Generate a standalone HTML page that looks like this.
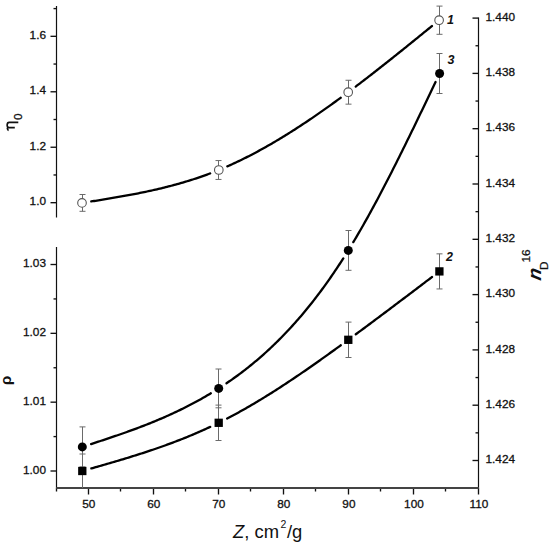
<!DOCTYPE html>
<html><head><meta charset="utf-8"><style>
html,body{margin:0;padding:0;background:#fff;}
body{width:550px;height:547px;overflow:hidden;}
svg{display:block;}
</style></head><body>
<svg width="550" height="547" viewBox="0 0 550 547">
<rect width="550" height="547" fill="#fff"/>
<g stroke="#111" stroke-width="1.35" fill="none">
<line x1="56.5" y1="6" x2="56.5" y2="217.5" stroke-width="1.2"/>
<line x1="50.5" y1="202.70" x2="56.5" y2="202.70"/>
<line x1="50.5" y1="147.24" x2="56.5" y2="147.24"/>
<line x1="50.5" y1="91.78" x2="56.5" y2="91.78"/>
<line x1="50.5" y1="36.32" x2="56.5" y2="36.32"/>
<line x1="53.5" y1="174.97" x2="56.5" y2="174.97"/>
<line x1="53.5" y1="119.51" x2="56.5" y2="119.51"/>
<line x1="53.5" y1="64.05" x2="56.5" y2="64.05"/>
<line x1="53.5" y1="8.59" x2="56.5" y2="8.59"/>
<line x1="56.5" y1="247" x2="56.5" y2="488.0" stroke-width="1.2"/>
<line x1="50.5" y1="471.00" x2="56.5" y2="471.00"/>
<line x1="50.5" y1="402.17" x2="56.5" y2="402.17"/>
<line x1="50.5" y1="333.34" x2="56.5" y2="333.34"/>
<line x1="50.5" y1="264.51" x2="56.5" y2="264.51"/>
<line x1="53.5" y1="436.59" x2="56.5" y2="436.59"/>
<line x1="53.5" y1="367.76" x2="56.5" y2="367.76"/>
<line x1="53.5" y1="298.93" x2="56.5" y2="298.93"/>
<line x1="478.5" y1="17.5" x2="478.5" y2="488.0" stroke-width="1.2"/>
<line x1="472.5" y1="460.50" x2="478.5" y2="460.50"/>
<line x1="472.5" y1="405.20" x2="478.5" y2="405.20"/>
<line x1="472.5" y1="349.90" x2="478.5" y2="349.90"/>
<line x1="472.5" y1="294.60" x2="478.5" y2="294.60"/>
<line x1="472.5" y1="239.30" x2="478.5" y2="239.30"/>
<line x1="472.5" y1="184.00" x2="478.5" y2="184.00"/>
<line x1="472.5" y1="128.70" x2="478.5" y2="128.70"/>
<line x1="472.5" y1="73.40" x2="478.5" y2="73.40"/>
<line x1="472.5" y1="18.10" x2="478.5" y2="18.10"/>
<line x1="475.5" y1="432.85" x2="478.5" y2="432.85"/>
<line x1="475.5" y1="377.55" x2="478.5" y2="377.55"/>
<line x1="475.5" y1="322.25" x2="478.5" y2="322.25"/>
<line x1="475.5" y1="266.95" x2="478.5" y2="266.95"/>
<line x1="475.5" y1="211.65" x2="478.5" y2="211.65"/>
<line x1="475.5" y1="156.35" x2="478.5" y2="156.35"/>
<line x1="475.5" y1="101.05" x2="478.5" y2="101.05"/>
<line x1="475.5" y1="45.75" x2="478.5" y2="45.75"/>
<line x1="88.50" y1="488.0" x2="88.50" y2="494.5"/>
<line x1="153.50" y1="488.0" x2="153.50" y2="494.5"/>
<line x1="218.50" y1="488.0" x2="218.50" y2="494.5"/>
<line x1="283.50" y1="488.0" x2="283.50" y2="494.5"/>
<line x1="348.50" y1="488.0" x2="348.50" y2="494.5"/>
<line x1="413.50" y1="488.0" x2="413.50" y2="494.5"/>
<line x1="478.50" y1="488.0" x2="478.50" y2="494.5"/>
<line x1="56.50" y1="488.0" x2="56.50" y2="491.5"/>
<line x1="120.50" y1="488.0" x2="120.50" y2="491.5"/>
<line x1="185.50" y1="488.0" x2="185.50" y2="491.5"/>
<line x1="250.50" y1="488.0" x2="250.50" y2="491.5"/>
<line x1="315.50" y1="488.0" x2="315.50" y2="491.5"/>
<line x1="380.50" y1="488.0" x2="380.50" y2="491.5"/>
<line x1="445.50" y1="488.0" x2="445.50" y2="491.5"/>
</g>
<line x1="56.2" y1="488.0" x2="478.8" y2="488.0" stroke="#444" stroke-width="2"/>
<g font-family="'Liberation Sans', sans-serif" font-size="11.8" fill="#111" stroke="#111" stroke-width="0.3">
<text x="46" y="205.40" text-anchor="end">1.0</text>
<text x="46" y="149.94" text-anchor="end">1.2</text>
<text x="46" y="94.48" text-anchor="end">1.4</text>
<text x="46" y="39.02" text-anchor="end">1.6</text>
<text x="46" y="473.70" text-anchor="end">1.00</text>
<text x="46" y="404.87" text-anchor="end">1.01</text>
<text x="46" y="336.04" text-anchor="end">1.02</text>
<text x="46" y="267.21" text-anchor="end">1.03</text>
<text x="485.5" y="463.20">1.424</text>
<text x="485.5" y="407.90">1.426</text>
<text x="485.5" y="352.60">1.428</text>
<text x="485.5" y="297.30">1.430</text>
<text x="485.5" y="242.00">1.432</text>
<text x="485.5" y="186.70">1.434</text>
<text x="485.5" y="131.40">1.436</text>
<text x="485.5" y="76.10">1.438</text>
<text x="485.5" y="20.80">1.440</text>
<text x="88.80" y="507.8" text-anchor="middle">50</text>
<text x="153.83" y="507.8" text-anchor="middle">60</text>
<text x="218.86" y="507.8" text-anchor="middle">70</text>
<text x="283.89" y="507.8" text-anchor="middle">80</text>
<text x="348.92" y="507.8" text-anchor="middle">90</text>
<text x="413.95" y="507.8" text-anchor="middle">100</text>
<text x="478.98" y="507.8" text-anchor="middle">110</text>
</g>
<path d="M18.3,122.3 L9.2,122.3 C6.6,122.3 6.4,127.6 9.0,127.6 M14.8,127.6 L8.2,127.6 C7.0,127.7 7.2,129.6 8.6,130.5" stroke="#111" stroke-width="1.7" fill="none"/>
<text font-family="'Liberation Sans', sans-serif" font-size="11.8" fill="#111" stroke="#111" stroke-width="0.3" transform="translate(22,120) rotate(-90)">0</text>
<text font-family="'Liberation Sans', sans-serif" font-size="15.5" font-weight="bold" fill="#111" transform="translate(10.6,385.2) rotate(-90)">&#961;</text>
<text font-family="'Liberation Sans', sans-serif" font-size="19" font-weight="bold" font-style="italic" fill="#111" transform="translate(541,281) rotate(-90) skewX(-12)">n</text>
<text font-family="'Liberation Sans', sans-serif" font-size="11.8" fill="#111" stroke="#111" stroke-width="0.25" transform="translate(547.5,270) rotate(-90)">D</text>
<text font-family="'Liberation Sans', sans-serif" font-size="11.8" fill="#111" stroke="#111" stroke-width="0.25" transform="translate(529.5,262.5) rotate(-90)">16</text>
<text font-family="'Liberation Sans', sans-serif" font-size="18.4" fill="#111" x="233" y="538.4"><tspan font-style="italic">Z</tspan>, cm<tspan font-size="10.5" dx="1.6" dy="-10.6">2</tspan><tspan dx="0.6" dy="10.6">/g</tspan></text>
<g stroke="#6a6a6a" stroke-width="1" fill="none">
<line x1="82.5" y1="194.50" x2="82.5" y2="211.30"/>
<line x1="79.5" y1="194.50" x2="85.5" y2="194.50"/>
<line x1="79.5" y1="211.30" x2="85.5" y2="211.30"/>
<line x1="218.5" y1="160.55" x2="218.5" y2="179.45"/>
<line x1="215.5" y1="160.55" x2="221.5" y2="160.55"/>
<line x1="215.5" y1="179.45" x2="221.5" y2="179.45"/>
<line x1="348.5" y1="80.25" x2="348.5" y2="104.15"/>
<line x1="345.5" y1="80.25" x2="351.5" y2="80.25"/>
<line x1="345.5" y1="104.15" x2="351.5" y2="104.15"/>
<line x1="439.5" y1="6.10" x2="439.5" y2="34.30"/>
<line x1="436.5" y1="6.10" x2="442.5" y2="6.10"/>
<line x1="436.5" y1="34.30" x2="442.5" y2="34.30"/>
</g>
<g stroke="#6a6a6a" stroke-width="1" fill="none">
<line x1="82.5" y1="454.00" x2="82.5" y2="488.00"/>
<line x1="79.5" y1="454.00" x2="85.5" y2="454.00"/>
<line x1="218.5" y1="405.10" x2="218.5" y2="440.50"/>
<line x1="215.5" y1="405.10" x2="221.5" y2="405.10"/>
<line x1="215.5" y1="440.50" x2="221.5" y2="440.50"/>
<line x1="348.5" y1="322.10" x2="348.5" y2="357.50"/>
<line x1="345.5" y1="322.10" x2="351.5" y2="322.10"/>
<line x1="345.5" y1="357.50" x2="351.5" y2="357.50"/>
<line x1="439.5" y1="253.85" x2="439.5" y2="288.95"/>
<line x1="436.5" y1="253.85" x2="442.5" y2="253.85"/>
<line x1="436.5" y1="288.95" x2="442.5" y2="288.95"/>
</g>
<g stroke="#6a6a6a" stroke-width="1" fill="none">
<line x1="82.5" y1="426.90" x2="82.5" y2="466.90"/>
<line x1="79.5" y1="426.90" x2="85.5" y2="426.90"/>
<line x1="79.5" y1="466.90" x2="85.5" y2="466.90"/>
<line x1="218.5" y1="369.00" x2="218.5" y2="407.80"/>
<line x1="215.5" y1="369.00" x2="221.5" y2="369.00"/>
<line x1="215.5" y1="407.80" x2="221.5" y2="407.80"/>
<line x1="348.5" y1="230.50" x2="348.5" y2="270.30"/>
<line x1="345.5" y1="230.50" x2="351.5" y2="230.50"/>
<line x1="345.5" y1="270.30" x2="351.5" y2="270.30"/>
<line x1="439.5" y1="53.50" x2="439.5" y2="93.50"/>
<line x1="436.5" y1="53.50" x2="442.5" y2="53.50"/>
<line x1="436.5" y1="93.50" x2="442.5" y2="93.50"/>
</g>
<path d="M91.29,201.45 L92.72,201.22 L94.15,200.99 L95.58,200.77 L97.01,200.54 L98.44,200.31 L99.87,200.08 L101.30,199.85 L102.73,199.62 L104.15,199.39 L105.58,199.16 L107.01,198.92 L108.44,198.69 L109.87,198.45 L111.30,198.21 L112.73,197.97 L114.16,197.73 L115.59,197.48 L117.02,197.24 L118.45,196.99 L119.88,196.74 L121.31,196.49 L122.74,196.23 L124.17,195.98 L125.60,195.72 L127.02,195.46 L128.45,195.19 L129.88,194.93 L131.31,194.66 L132.74,194.39 L134.17,194.11 L135.60,193.83 L137.03,193.55 L138.46,193.27 L139.89,192.98 L141.32,192.69 L142.75,192.40 L144.18,192.11 L145.61,191.81 L147.04,191.50 L148.46,191.20 L149.89,190.89 L151.32,190.57 L152.75,190.25 L154.18,189.93 L155.61,189.61 L157.04,189.28 L158.47,188.94 L159.90,188.60 L161.33,188.26 L162.76,187.91 L164.19,187.56 L165.62,187.21 L167.05,186.85 L168.48,186.48 L169.91,186.11 L171.33,185.74 L172.76,185.36 L174.19,184.97 L175.62,184.58 L177.05,184.19 L178.48,183.78 L179.91,183.38 L181.34,182.97 L182.77,182.55 L184.20,182.13 L185.63,181.70 L187.06,181.27 L188.49,180.83 L189.92,180.38 L191.35,179.93 L192.77,179.47 L194.20,179.01 L195.63,178.54 L197.06,178.07 L198.49,177.58 L199.92,177.09 L201.35,176.60 L202.78,176.10 L204.21,175.59 L205.64,175.07 L207.07,174.55 L208.50,174.02 L209.93,173.49 L210.17,173.40M227.32,166.38 L228.75,165.75 L230.18,165.11 L231.61,164.46 L233.03,163.81 L234.46,163.15 L235.89,162.48 L237.32,161.81 L238.75,161.12 L240.18,160.43 L241.61,159.74 L243.04,159.04 L244.47,158.33 L245.90,157.61 L247.33,156.89 L248.76,156.16 L250.19,155.42 L251.62,154.68 L253.05,153.93 L254.48,153.18 L255.90,152.42 L257.33,151.65 L258.76,150.88 L260.19,150.10 L261.62,149.31 L263.05,148.52 L264.48,147.72 L265.91,146.92 L267.34,146.11 L268.77,145.29 L270.20,144.47 L271.63,143.64 L273.06,142.81 L274.49,141.97 L275.92,141.13 L277.34,140.28 L278.77,139.42 L280.20,138.56 L281.63,137.69 L283.06,136.82 L284.49,135.94 L285.92,135.06 L287.35,134.17 L288.78,133.28 L290.21,132.38 L291.64,131.48 L293.07,130.57 L294.50,129.66 L295.93,128.74 L297.36,127.82 L298.79,126.89 L300.21,125.96 L301.64,125.02 L303.07,124.08 L304.50,123.13 L305.93,122.18 L307.36,121.22 L308.79,120.26 L310.22,119.30 L311.65,118.33 L313.08,117.35 L314.51,116.38 L315.94,115.39 L317.37,114.41 L318.80,113.42 L320.23,112.42 L321.65,111.42 L323.08,110.42 L324.51,109.41 L325.94,108.40 L327.37,107.39 L328.80,106.37 L330.23,105.35 L331.66,104.32 L333.09,103.29 L334.52,102.26 L335.95,101.22 L337.38,100.18 L338.81,99.14 L340.24,98.09 L340.71,97.74M355.72,86.55 L357.15,85.46 L358.58,84.38 L360.01,83.29 L361.44,82.19 L362.87,81.10 L364.30,80.00 L365.73,78.90 L367.16,77.80 L368.59,76.70 L370.01,75.59 L371.44,74.48 L372.87,73.37 L374.30,72.26 L375.73,71.14 L377.16,70.02 L378.59,68.90 L380.02,67.78 L381.45,66.65 L382.88,65.53 L384.31,64.40 L385.74,63.27 L387.17,62.14 L388.60,61.00 L390.03,59.87 L391.45,58.73 L392.88,57.59 L394.31,56.45 L395.74,55.31 L397.17,54.17 L398.60,53.02 L400.03,51.88 L401.46,50.73 L402.89,49.58 L404.32,48.43 L405.75,47.28 L407.18,46.13 L408.61,44.97 L410.04,43.82 L411.47,42.66 L412.90,41.51 L414.32,40.35 L415.75,39.19 L417.18,38.03 L418.61,36.87 L420.04,35.71 L421.47,34.55 L422.90,33.39 L424.33,32.23 L425.76,31.07 L427.19,29.90 L428.62,28.74 L430.05,27.58 L431.48,26.41 L431.95,26.02" stroke="#000" stroke-width="2.3" fill="none" stroke-linecap="round" stroke-linejoin="round"/>
<path d="M91.35,468.43 L92.78,468.03 L94.21,467.62 L95.64,467.21 L97.07,466.81 L98.50,466.40 L99.93,465.99 L101.36,465.58 L102.79,465.17 L104.22,464.76 L105.65,464.34 L107.08,463.93 L108.50,463.51 L109.93,463.10 L111.36,462.68 L112.79,462.26 L114.22,461.84 L115.65,461.42 L117.08,461.00 L118.51,460.57 L119.94,460.14 L121.37,459.72 L122.80,459.29 L124.23,458.85 L125.66,458.42 L127.09,457.98 L128.52,457.55 L129.95,457.11 L131.37,456.66 L132.80,456.22 L134.23,455.77 L135.66,455.32 L137.09,454.87 L138.52,454.41 L139.95,453.96 L141.38,453.50 L142.81,453.04 L144.24,452.57 L145.67,452.10 L147.10,451.63 L148.53,451.16 L149.96,450.68 L151.39,450.20 L152.81,449.72 L154.24,449.23 L155.67,448.74 L157.10,448.24 L158.53,447.75 L159.96,447.25 L161.39,446.74 L162.82,446.24 L164.25,445.72 L165.68,445.21 L167.11,444.69 L168.54,444.17 L169.97,443.64 L171.40,443.11 L172.83,442.57 L174.26,442.03 L175.68,441.49 L177.11,440.94 L178.54,440.39 L179.97,439.83 L181.40,439.27 L182.83,438.70 L184.26,438.13 L185.69,437.56 L187.12,436.98 L188.55,436.39 L189.98,435.80 L191.41,435.21 L192.84,434.61 L194.27,434.00 L195.70,433.39 L197.12,432.78 L198.55,432.16 L199.98,431.53 L201.41,430.90 L202.84,430.26 L204.27,429.62 L205.70,428.97 L207.13,428.31 L208.56,427.65 L209.99,426.99 L210.23,426.88M227.14,418.52 L228.57,417.78 L230.00,417.02 L231.43,416.27 L232.86,415.50 L234.29,414.74 L235.72,413.96 L237.15,413.18 L238.58,412.40 L240.01,411.60 L241.43,410.81 L242.86,410.01 L244.29,409.20 L245.72,408.38 L247.15,407.57 L248.58,406.74 L250.01,405.91 L251.44,405.08 L252.87,404.24 L254.30,403.40 L255.73,402.55 L257.16,401.70 L258.59,400.84 L260.02,399.98 L261.45,399.11 L262.87,398.24 L264.30,397.36 L265.73,396.48 L267.16,395.59 L268.59,394.70 L270.02,393.81 L271.45,392.91 L272.88,392.01 L274.31,391.10 L275.74,390.19 L277.17,389.27 L278.60,388.35 L280.03,387.43 L281.46,386.50 L282.89,385.57 L284.32,384.64 L285.74,383.70 L287.17,382.75 L288.60,381.81 L290.03,380.86 L291.46,379.91 L292.89,378.95 L294.32,377.99 L295.75,377.03 L297.18,376.06 L298.61,375.09 L300.04,374.12 L301.47,373.14 L302.90,372.16 L304.33,371.18 L305.76,370.19 L307.18,369.21 L308.61,368.22 L310.04,367.22 L311.47,366.23 L312.90,365.23 L314.33,364.23 L315.76,363.22 L317.19,362.21 L318.62,361.21 L320.05,360.19 L321.48,359.18 L322.91,358.16 L324.34,357.15 L325.77,356.13 L327.20,355.10 L328.63,354.08 L330.05,353.05 L331.48,352.02 L332.91,350.99 L334.34,349.96 L335.77,348.93 L337.20,347.89 L338.63,346.86 L340.06,345.82 L340.77,345.30M355.78,334.30 L357.21,333.25 L358.64,332.19 L360.07,331.13 L361.50,330.08 L362.93,329.02 L364.36,327.96 L365.79,326.90 L367.22,325.84 L368.65,324.78 L370.08,323.71 L371.51,322.65 L372.94,321.58 L374.36,320.52 L375.79,319.45 L377.22,318.38 L378.65,317.31 L380.08,316.24 L381.51,315.17 L382.94,314.10 L384.37,313.03 L385.80,311.96 L387.23,310.89 L388.66,309.81 L390.09,308.74 L391.52,307.66 L392.95,306.59 L394.38,305.51 L395.80,304.43 L397.23,303.36 L398.66,302.28 L400.09,301.20 L401.52,300.12 L402.95,299.04 L404.38,297.96 L405.81,296.88 L407.24,295.80 L408.67,294.72 L410.10,293.64 L411.53,292.55 L412.96,291.47 L414.39,290.39 L415.82,289.31 L417.25,288.22 L418.67,287.14 L420.10,286.05 L421.53,284.97 L422.96,283.88 L424.39,282.80 L425.82,281.71 L427.25,280.63 L428.68,279.54 L430.11,278.46 L431.54,277.37 L432.02,277.01" stroke="#000" stroke-width="2.3" fill="none" stroke-linecap="round" stroke-linejoin="round"/>
<path d="M91.12,444.04 L92.55,443.57 L93.98,443.11 L95.41,442.64 L96.84,442.17 L98.27,441.70 L99.70,441.23 L101.13,440.76 L102.56,440.29 L103.99,439.82 L105.42,439.34 L106.85,438.86 L108.28,438.38 L109.71,437.90 L111.14,437.42 L112.57,436.94 L114.00,436.45 L115.43,435.96 L116.86,435.47 L118.29,434.98 L119.72,434.48 L121.15,433.98 L122.58,433.48 L124.01,432.98 L125.44,432.47 L126.87,431.96 L128.30,431.45 L129.73,430.93 L131.16,430.41 L132.59,429.89 L134.02,429.36 L135.45,428.83 L136.88,428.30 L138.31,427.76 L139.74,427.22 L141.17,426.67 L142.60,426.13 L144.03,425.57 L145.47,425.01 L146.90,424.45 L148.33,423.89 L149.76,423.31 L151.19,422.74 L152.62,422.16 L154.05,421.57 L155.48,420.98 L156.91,420.39 L158.34,419.79 L159.77,419.18 L161.20,418.57 L162.63,417.95 L164.06,417.33 L165.49,416.70 L166.92,416.07 L168.35,415.43 L169.78,414.78 L171.21,414.13 L172.64,413.48 L174.07,412.81 L175.50,412.14 L176.93,411.46 L178.36,410.78 L179.79,410.09 L181.22,409.39 L182.65,408.69 L184.08,407.98 L185.51,407.26 L186.94,406.54 L188.37,405.81 L189.80,405.07 L191.23,404.32 L192.66,403.57 L194.09,402.80 L195.52,402.04 L196.95,401.26 L198.38,400.47 L199.81,399.68 L201.24,398.88 L202.67,398.07 L204.10,397.25 L205.53,396.42 L206.96,395.59 L208.39,394.74 L209.82,393.89 L210.78,393.32M226.51,383.27 L227.94,382.30 L229.37,381.32 L230.80,380.32 L232.23,379.32 L233.66,378.30 L235.09,377.28 L236.52,376.24 L237.95,375.20 L239.38,374.14 L240.81,373.07 L242.24,371.99 L243.67,370.90 L245.10,369.79 L246.53,368.68 L247.96,367.55 L249.39,366.41 L250.82,365.25 L252.25,364.09 L253.68,362.91 L255.11,361.72 L256.54,360.52 L257.97,359.30 L259.40,358.07 L260.83,356.83 L262.26,355.57 L263.69,354.31 L265.12,353.02 L266.55,351.73 L267.98,350.42 L269.41,349.09 L270.84,347.75 L272.27,346.40 L273.70,345.03 L275.13,343.65 L276.56,342.25 L277.99,340.84 L279.42,339.42 L280.85,337.97 L282.28,336.52 L283.71,335.05 L285.14,333.56 L286.57,332.05 L288.00,330.54 L289.43,329.00 L290.86,327.45 L292.29,325.88 L293.72,324.30 L295.15,322.70 L296.58,321.08 L298.01,319.45 L299.44,317.80 L300.88,316.14 L302.31,314.45 L303.74,312.75 L305.17,311.03 L306.60,309.30 L308.03,307.54 L309.46,305.77 L310.89,303.99 L312.32,302.18 L313.75,300.35 L315.18,298.51 L316.61,296.65 L318.04,294.77 L319.47,292.87 L320.90,290.95 L322.33,289.02 L323.76,287.06 L325.19,285.09 L326.62,283.09 L328.05,281.08 L329.48,279.05 L330.91,276.99 L332.34,274.92 L333.77,272.83 L335.20,270.71 L336.63,268.58 L338.06,266.43 L339.49,264.25 L340.92,262.06 L342.35,259.84 L343.30,258.36M353.31,242.16 L354.74,239.76 L356.17,237.34 L357.60,234.91 L359.03,232.45 L360.46,229.97 L361.89,227.48 L363.33,224.97 L364.76,222.44 L366.19,219.89 L367.62,217.33 L369.05,214.74 L370.48,212.15 L371.91,209.53 L373.34,206.90 L374.77,204.25 L376.20,201.59 L377.63,198.92 L379.06,196.23 L380.49,193.52 L381.92,190.80 L383.35,188.07 L384.78,185.32 L386.21,182.56 L387.64,179.79 L389.07,177.01 L390.50,174.21 L391.93,171.41 L393.36,168.59 L394.79,165.76 L396.22,162.92 L397.65,160.07 L399.08,157.21 L400.51,154.34 L401.94,151.46 L403.37,148.58 L404.80,145.68 L406.23,142.78 L407.66,139.86 L409.09,136.95 L410.52,134.02 L411.95,131.09 L413.38,128.15 L414.81,125.20 L416.24,122.25 L417.67,119.29 L419.10,116.33 L420.53,113.36 L421.96,110.39 L423.39,107.41 L424.82,104.43 L426.25,101.45 L427.68,98.46 L429.11,95.47 L430.54,92.48 L431.97,89.49 L433.40,86.49 L434.83,83.50 L435.55,82.00" stroke="#000" stroke-width="2.3" fill="none" stroke-linecap="round" stroke-linejoin="round"/>
<circle cx="82.0" cy="202.9" r="4.3" fill="#fff" stroke="#555" stroke-width="1.1"/>
<circle cx="218.8" cy="170.0" r="4.3" fill="#fff" stroke="#555" stroke-width="1.1"/>
<circle cx="348.2" cy="92.2" r="4.3" fill="#fff" stroke="#555" stroke-width="1.1"/>
<circle cx="439.1" cy="20.2" r="4.3" fill="#fff" stroke="#555" stroke-width="1.1"/>
<rect x="78.14999999999999" y="466.85" width="8.3" height="8.3" fill="#000"/>
<rect x="214.54999999999998" y="418.65000000000003" width="8.3" height="8.3" fill="#000"/>
<rect x="344.15000000000003" y="335.65000000000003" width="8.3" height="8.3" fill="#000"/>
<rect x="435.25" y="267.25" width="8.3" height="8.3" fill="#000"/>
<circle cx="82.3" cy="446.9" r="4.5" fill="#000"/>
<circle cx="218.7" cy="388.4" r="4.5" fill="#000"/>
<circle cx="348.3" cy="250.4" r="4.5" fill="#000"/>
<circle cx="439.6" cy="73.5" r="4.5" fill="#000"/>
<g font-family="'Liberation Sans', sans-serif" font-size="12.5" font-weight="bold" font-style="italic" fill="#111">
<text x="447" y="24.3">1</text>
<text x="446" y="261.4">2</text>
<text x="447.5" y="63.8">3</text>
</g>
</svg>
</body></html>
